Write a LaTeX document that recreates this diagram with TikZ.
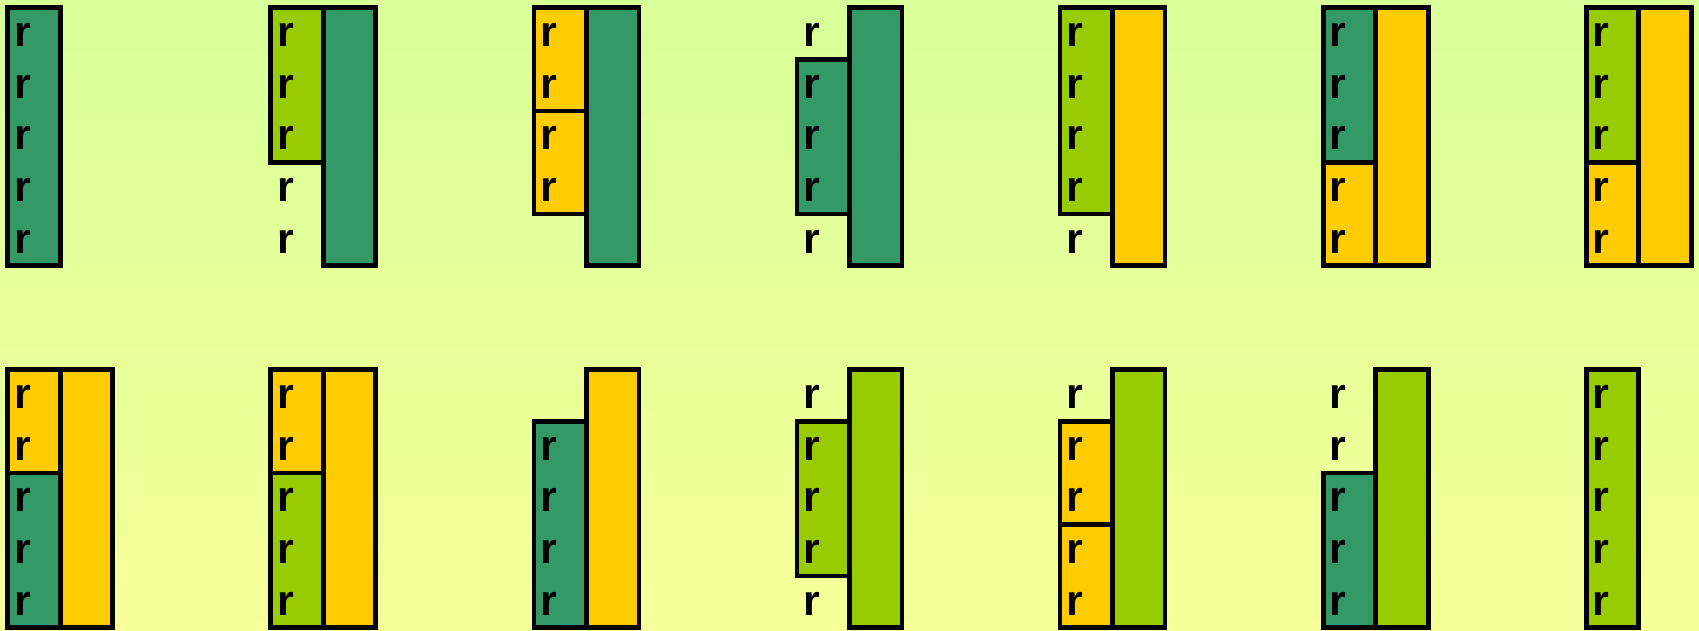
\documentclass[tikz,border=0pt]{standalone}
\usepackage{fontspec}
\setmainfont{Liberation Sans}
\definecolor{dkg}{HTML}{339966}
\definecolor{lgr}{HTML}{99CC00}
\definecolor{ylw}{HTML}{FFCC00}
\definecolor{bgtop}{RGB}{216,255,153}
\definecolor{bgbot}{RGB}{246,255,153}
\def\rh{51.6}
\def\bw{52.5}
\newcommand\leftbox[5]{\draw[boxline,fill=#5] ({#1},{#2+#3*\rh}) rectangle ({#1+\bw},{#2+#4*\rh});}
\newcommand\rightbox[3]{\draw[boxline,fill=#3] ({#1+\bw},{#2}) rectangle ({#1+2*\bw},{#2+5*\rh});}
\newcommand\letters[5]{\foreach \k in {#3,...,#4} {\node[lbl] (#5-\k) at ({#1+6.3},{#2+39+\k*\rh}) {r};}}
\begin{document}
\begin{tikzpicture}[x=1pt,y=-1pt,
  boxline/.style={draw=black,line width=4.7pt,line join=miter},
  lbl/.style={anchor=base west,inner sep=0pt,outer sep=0pt,font=\fontsize{43}{43}\selectfont\bfseries}]
\useasboundingbox (0,0) rectangle (1699,631);
\shade[top color=bgtop,bottom color=bgbot] (0,0) rectangle (1699,631);
% top row
\def\ya{7.7}
\leftbox{7.7}{\ya}{0}{5}{dkg}\letters{7.7}{\ya}{0}{4}{a1}
\rightbox{270.8}{\ya}{dkg}\leftbox{270.8}{\ya}{0}{3}{lgr}\letters{270.8}{\ya}{0}{4}{a2}
\rightbox{533.9}{\ya}{dkg}\leftbox{533.9}{\ya}{0}{2}{ylw}\leftbox{533.9}{\ya}{2}{4}{ylw}\letters{533.9}{\ya}{0}{3}{a3}
\rightbox{797.0}{\ya}{dkg}\leftbox{797.0}{\ya}{1}{4}{dkg}\letters{797.0}{\ya}{0}{4}{a4}
\rightbox{1060.1}{\ya}{ylw}\leftbox{1060.1}{\ya}{0}{4}{lgr}\letters{1060.1}{\ya}{0}{4}{a5}
\rightbox{1323.2}{\ya}{ylw}\leftbox{1323.2}{\ya}{0}{3}{dkg}\leftbox{1323.2}{\ya}{3}{5}{ylw}\letters{1323.2}{\ya}{0}{4}{a6}
\rightbox{1586.3}{\ya}{ylw}\leftbox{1586.3}{\ya}{0}{3}{lgr}\leftbox{1586.3}{\ya}{3}{5}{ylw}\letters{1586.3}{\ya}{0}{4}{a7}
% bottom row
\def\yb{369.7}
\rightbox{7.7}{\yb}{ylw}\leftbox{7.7}{\yb}{0}{2}{ylw}\leftbox{7.7}{\yb}{2}{5}{dkg}\letters{7.7}{\yb}{0}{4}{b1}
\rightbox{270.8}{\yb}{ylw}\leftbox{270.8}{\yb}{0}{2}{ylw}\leftbox{270.8}{\yb}{2}{5}{lgr}\letters{270.8}{\yb}{0}{4}{b2}
\rightbox{533.9}{\yb}{ylw}\leftbox{533.9}{\yb}{1}{5}{dkg}\letters{533.9}{\yb}{1}{4}{b3}
\rightbox{797.0}{\yb}{lgr}\leftbox{797.0}{\yb}{1}{4}{lgr}\letters{797.0}{\yb}{0}{4}{b4}
\rightbox{1060.1}{\yb}{lgr}\leftbox{1060.1}{\yb}{1}{3}{ylw}\leftbox{1060.1}{\yb}{3}{5}{ylw}\letters{1060.1}{\yb}{0}{4}{b5}
\rightbox{1323.2}{\yb}{lgr}\leftbox{1323.2}{\yb}{2}{5}{dkg}\letters{1323.2}{\yb}{0}{4}{b6}
\leftbox{1586.3}{\yb}{0}{5}{lgr}\letters{1586.3}{\yb}{0}{4}{b7}
\end{tikzpicture}
\end{document}
